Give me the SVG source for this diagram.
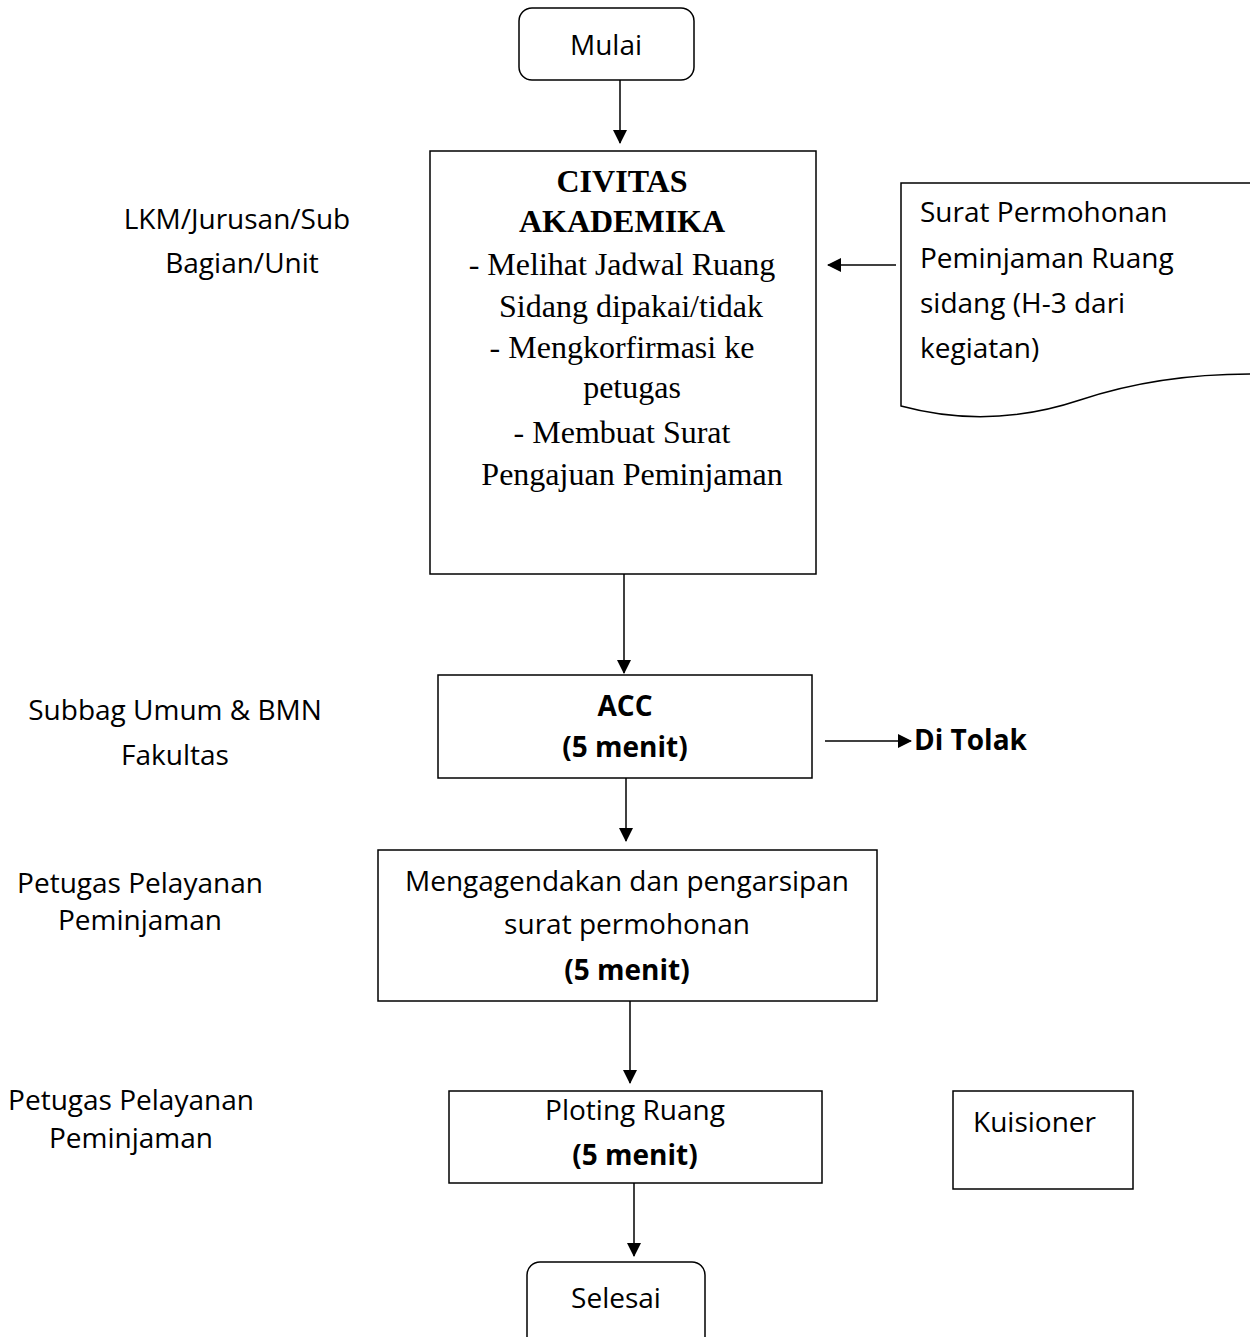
<svg xmlns="http://www.w3.org/2000/svg" width="1250" height="1337" viewBox="0 0 1250 1337">
  <style>
    .box { fill: #fff; stroke: #000; stroke-width: 1.5; }
    .sans { font-family: "Open Sans", "Noto Sans", sans-serif; font-size: 28px; fill: #000; }
    .bold { font-weight: bold; }
    .serif { font-family: "Liberation Serif", "Times New Roman", serif; font-size: 32px; fill: #000; }
    .mid { text-anchor: middle; }
    .conn { stroke: #000; stroke-width: 1.5; fill: none; marker-end: url(#arrow); }
  </style>
  <defs>
    <marker id="arrow" markerWidth="14" markerHeight="14" refX="13" refY="7" orient="auto" markerUnits="userSpaceOnUse">
      <path d="M0,0 L14,7 L0,14 Z" fill="#000"/>
    </marker>
  </defs>
  <rect width="1250" height="1337" fill="#fff"/>

  <!-- lane labels -->
  <g id="labels" class="sans mid">
    <text x="237" y="229">LKM/Jurusan/Sub</text>
    <text x="242" y="273">Bagian/Unit</text>
    <text x="175" y="720">Subbag Umum &amp; BMN</text>
    <text x="175" y="765">Fakultas</text>
    <text x="140" y="893">Petugas Pelayanan</text>
    <text x="140" y="930">Peminjaman</text>
    <text x="131" y="1110">Petugas Pelayanan</text>
    <text x="131" y="1148">Peminjaman</text>
  </g>

  <g id="mulai">
    <rect class="box" x="519" y="8" width="175" height="72" rx="13"/>
    <text class="sans mid" x="606" y="55">Mulai</text>
  </g>

  <g id="civitas">
    <rect class="box" x="430" y="151" width="386" height="423"/>
    <text class="serif bold mid" x="622" y="192">CIVITAS</text>
    <text class="serif bold mid" x="622" y="232">AKADEMIKA</text>
    <text class="serif mid" x="622" y="275">- Melihat Jadwal Ruang</text>
    <text class="serif mid" x="631" y="317">Sidang dipakai/tidak</text>
    <text class="serif mid" x="622" y="358">- Mengkorfirmasi ke</text>
    <text class="serif mid" x="632" y="398">petugas</text>
    <text class="serif mid" x="622" y="443">- Membuat Surat</text>
    <text class="serif mid" x="632" y="485">Pengajuan Peminjaman</text>
  </g>

  <g id="surat">
    <path class="box" d="M1250,183 H901 V406 C960,422 1020,420 1080,400 C1140,380 1200,374 1250,374"/>
    <text class="sans" x="920" y="222">Surat Permohonan</text>
    <text class="sans" x="920" y="268">Peminjaman Ruang</text>
    <text class="sans" x="920" y="313">sidang (H-3 dari</text>
    <text class="sans" x="920" y="358">kegiatan)</text>
  </g>

  <g id="acc">
    <rect class="box" x="438" y="675" width="374" height="103"/>
    <text class="sans bold mid" x="625" y="716">ACC</text>
    <text class="sans bold mid" x="625" y="757">(5 menit)</text>
  </g>

  <g id="ditolak">
    <text class="sans bold" x="914" y="750">Di Tolak</text>
  </g>

  <g id="agenda">
    <rect class="box" x="378" y="850" width="499" height="151"/>
    <text class="sans mid" x="627" y="891">Mengagendakan dan pengarsipan</text>
    <text class="sans mid" x="627" y="934">surat permohonan</text>
    <text class="sans bold mid" x="627" y="980">(5 menit)</text>
  </g>

  <g id="ploting">
    <rect class="box" x="449" y="1091" width="373" height="92"/>
    <text class="sans mid" x="635" y="1120">Ploting Ruang</text>
    <text class="sans bold mid" x="635" y="1165">(5 menit)</text>
  </g>

  <g id="kuisioner">
    <rect class="box" x="953" y="1091" width="180" height="98"/>
    <text class="sans" x="973" y="1132">Kuisioner</text>
  </g>

  <g id="selesai">
    <rect class="box" x="527" y="1262" width="178" height="90" rx="13"/>
    <text class="sans mid" x="616" y="1308">Selesai</text>
  </g>

  <g id="connectors">
    <line class="conn" x1="620" y1="80" x2="620" y2="143"/>
    <line class="conn" x1="896" y1="265" x2="828" y2="265"/>
    <line class="conn" x1="624" y1="574" x2="624" y2="673"/>
    <line class="conn" x1="825" y1="741" x2="911" y2="741"/>
    <line class="conn" x1="626" y1="778" x2="626" y2="841"/>
    <line class="conn" x1="630" y1="1001" x2="630" y2="1083"/>
    <line class="conn" x1="634" y1="1183" x2="634" y2="1256"/>
  </g>
</svg>
